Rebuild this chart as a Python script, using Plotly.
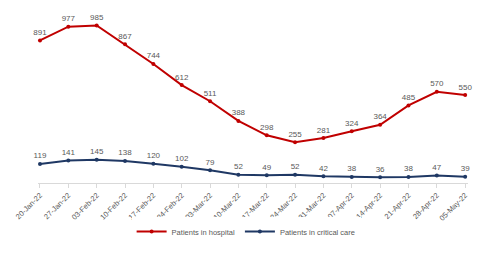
import plotly.graph_objects as go

dates = ["20-Jan-22", "27-Jan-22", "03-Feb-22", "10-Feb-22", "17-Feb-22", "24-Feb-22",
         "03-Mar-22", "10-Mar-22", "17-Mar-22", "24-Mar-22", "31-Mar-22", "07-Apr-22",
         "14-Apr-22", "21-Apr-22", "28-Apr-22", "05-May-22"]
hospital = [891, 977, 985, 867, 744, 612, 511, 388, 298, 255, 281, 324, 364, 485, 570, 550]
critical = [119, 141, 145, 138, 120, 102, 79, 52, 49, 52, 42, 38, 36, 38, 47, 39]

xs = list(range(len(dates)))
label_font = dict(family="Liberation Sans, Arial, sans-serif", size=8, color="#595959")

fig = go.Figure()
fig.add_trace(go.Scatter(
    x=xs, y=hospital, name="Patients in hospital", mode="lines+markers+text",
    line=dict(color="#C00000", width=2), marker=dict(size=4, color="#C00000"),
    text=[str(v) for v in hospital], textposition="top center", textfont=label_font,
    cliponaxis=False))
fig.add_trace(go.Scatter(
    x=xs, y=critical, name="Patients in critical care", mode="lines+markers+text",
    line=dict(color="#1F3864", width=2), marker=dict(size=4, color="#1F3864"),
    text=[str(v) for v in critical], textposition="top center", textfont=label_font,
    cliponaxis=False))

fig.update_layout(
    width=487, height=253,
    margin=dict(l=38, r=19, t=7, b=65),
    paper_bgcolor="white", plot_bgcolor="white",
    font=dict(family="Liberation Sans, Arial, sans-serif", size=8, color="#595959"),
    showlegend=True,
    legend=dict(orientation="h", x=0.484, xanchor="center", y=-0.276, yanchor="middle",
                font=dict(size=7.5, color="#595959"), itemwidth=30, tracegroupgap=0),
    xaxis=dict(range=[-0.07, 15.1], tickmode="array", tickvals=xs, ticktext=dates,
               tickangle=-45, showgrid=False, zeroline=False, showline=True,
               linecolor="#D9D9D9", linewidth=1, ticks="outside", tickcolor="#D9D9D9",
               ticklen=4, tickfont=dict(size=7.5, color="#595959"), automargin=False),
    yaxis=dict(range=[0, 1100], visible=False, showgrid=False, zeroline=False,
               automargin=False),
)

fig.write_html("out.html")
